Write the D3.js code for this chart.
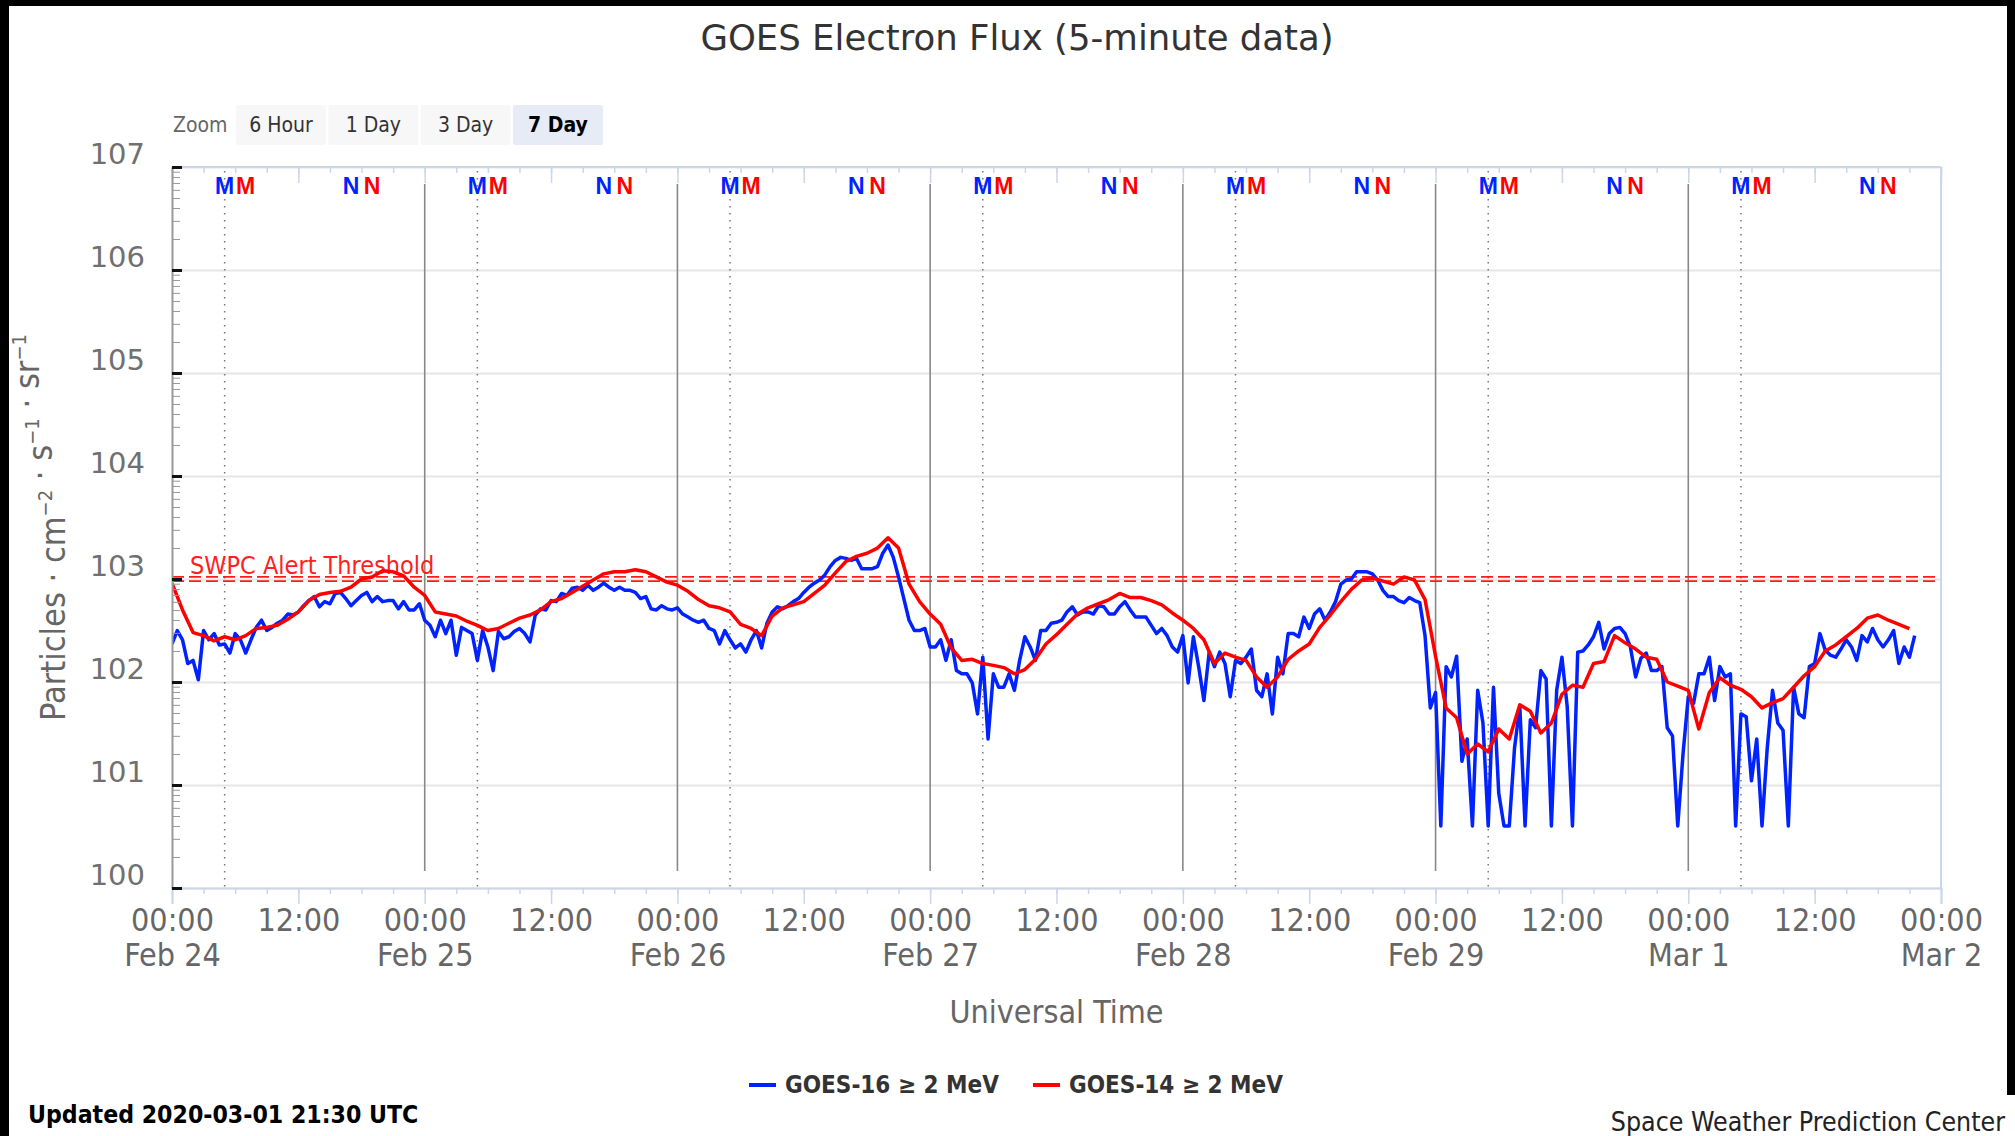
<!DOCTYPE html>
<html>
<head>
<meta charset="utf-8">
<script src="https://cdn.jsdelivr.net/npm/d3@7"></script>
<style>
  html, body { margin: 0; padding: 0; background: #fff; }
  svg { display: block; }
</style>
</head>
<body>
<svg id="chart" width="2015" height="1136"></svg>
<script>
const W = 2015, H = 1136
const plot = { left: 172, right: 1941, top: 167, bottom: 888 }

// series start 2020-02-24 00:00 UTC
const startTime = Date.UTC(2020, 1, 24)
const endTime = Date.UTC(2020, 2, 2)

// GOES-16 >= 2 MeV, one value every 30 minutes (pfu)
const g16Flux = [
  234, 316, 257, 151, 162, 105, 316, 257, 295, 229, 234, 191,
  295, 257, 191, 257, 339, 398, 316, 339, 372, 398, 457, 447,
  479, 550, 617, 676, 537, 603, 575, 724, 741, 646, 550, 617,
  692, 741, 603, 676, 603, 617, 617, 513, 603, 501, 501, 575,
  398, 355, 275, 398, 295, 398, 182, 339, 316, 295, 162, 316,
  219, 129, 309, 263, 275, 309, 331, 295, 245, 447, 513, 501,
  617, 603, 724, 692, 813, 832, 776, 871, 776, 832, 912, 832,
  776, 832, 776, 776, 741, 646, 676, 513, 501, 550, 513, 501,
  525, 457, 427, 398, 380, 398, 331, 316, 234, 316, 257, 214,
  234, 195, 257, 316, 214, 372, 479, 537, 513, 550, 603, 646,
  741, 832, 912, 977, 1096, 1318, 1514, 1622, 1585, 1514, 1585, 1259,
  1259, 1259, 1318, 1778, 2138, 1622, 1047, 646, 398, 316, 316, 331,
  219, 219, 257, 162, 257, 129, 120, 120, 98, 49, 174, 28,
  120, 89, 89, 120, 83, 162, 275, 219, 162, 316, 316, 372,
  380, 398, 479, 537, 447, 479, 479, 457, 550, 537, 457, 457,
  537, 603, 501, 427, 427, 427, 355, 295, 331, 282, 219, 195,
  282, 98, 275, 141, 66, 195, 141, 195, 151, 72, 162, 151,
  174, 209, 83, 72, 120, 49, 174, 120, 295, 295, 275, 427,
  331, 457, 513, 398, 479, 603, 891, 977, 1000, 1175, 1175, 1175,
  1122, 977, 776, 676, 676, 617, 589, 661, 617, 589, 282, 56,
  79, 4, 141, 112, 178, 17, 28, 4, 83, 40, 4, 89,
  8.3, 4, 4, 23, 58, 4, 43, 36, 129, 107, 4, 83,
  174, 58, 4, 195, 200, 229, 275, 380, 209, 295, 331, 339,
  295, 219, 112, 170, 191, 129, 129, 141, 36, 30, 4, 20,
  72, 62, 120, 120, 174, 66, 141, 112, 120, 4, 49, 46,
  11, 28, 4, 23, 83, 40, 34, 4, 89, 49, 45, 141,
  151, 295, 204, 182, 174, 209, 257, 219, 162, 282, 245, 331,
  257, 219, 257, 316, 151, 219, 174, 282
]

// GOES-14 >= 2 MeV, one value every hour (pfu)
const g14Flux = [
  912, 501, 302, 282, 251, 275, 257, 282, 331, 339, 355, 407, 479, 617, 708, 741, 759, 832, 1000, 1047, 1202, 1175, 1072, 832,
  692, 479, 457, 437, 389, 355, 316, 331, 372, 417, 447, 501, 603, 646, 741, 851, 977, 1122, 1175, 1175, 1230, 1175, 1047, 933,
  871, 759, 631, 550, 525, 479, 363, 331, 282, 437, 525, 562, 603, 724, 871, 1148, 1479, 1660, 1778, 1995, 2512, 1995, 891, 603,
  457, 363, 214, 162, 166, 151, 145, 138, 120, 132, 166, 234, 288, 363, 457, 525, 575, 631, 724, 661, 661, 617, 562, 468,
  398, 331, 257, 151, 191, 174, 162, 112, 89, 112, 166, 200, 234, 339, 447, 603, 794, 977, 1023, 955, 891, 1047, 977, 631,
  178, 56, 45, 20, 25, 21, 35, 28, 60, 52, 32, 40, 76, 93, 89, 151, 158, 282, 240, 209, 174, 166, 100, 91,
  83, 35, 79, 110, 93, 85, 72, 56, 63, 69, 89, 115, 141, 200, 229, 275, 331, 417, 447, 398, 363, 330
]

const yExponents = [0, 1, 2, 3, 4, 5, 6, 7]
const alertThreshold = 1000
const zoomButtons = ['6 Hour', '1 Day', '3 Day', '7 Day']
const activeZoom = '7 Day'
// local midnight / noon markers (UT hour of day) for each satellite
const localMarks = [
  { hour: 5, text: 'M', sat: 'g16' },
  { hour: 7, text: 'M', sat: 'g14' },
  { hour: 17, text: 'N', sat: 'g16' },
  { hour: 19, text: 'N', sat: 'g14' }
]
const seriesInfo = [
  { key: 'g16', name: 'GOES-16 \u2265 2 MeV', color: '#0022ff' },
  { key: 'g14', name: 'GOES-14 \u2265 2 MeV', color: '#ff0000' }
]

const color = { g16: '#0022ff', g14: '#ff0000' }
const cond = '"DejaVu Sans Condensed", "DejaVu Sans", sans-serif'

const g16 = g16Flux.map((v, i) => ({ t: new Date(startTime + i * 30 * 60e3), v }))
const g14 = g14Flux.map((v, i) => ({ t: new Date(startTime + i * 60 * 60e3), v }))

const svg = d3.select('#chart')

svg.append('rect').attr('width', W).attr('height', H).attr('fill', '#fff')

//Escalas
const x = d3.scaleUtc()
  .domain([startTime, endTime])
  .range([plot.left, plot.right])

const y = d3.scaleLog()
  .domain([1, 1e7])
  .range([plot.bottom, plot.top])

const decades = yExponents.map(e => Math.pow(10, e))
const minors = []
yExponents.slice(0, -1).forEach(e => {
  for (let k = 2; k <= 9; k++) minors.push(k * Math.pow(10, e))
})

// grid lines
svg.append('g')
  .attr('transform', `translate(${plot.left},0)`)
  .call(d3.axisLeft(y).tickValues(decades).tickSize(-(plot.right - plot.left)).tickFormat(''))
  .call(g => g.select('.domain').remove())
  .call(g => g.selectAll('line').attr('stroke', '#e6e6e6').attr('stroke-width', 2))

// day boundaries
const days = d3.utcDay.range(startTime, endTime)
svg.append('g').selectAll('line')
  .data(days.slice(1))
  .join('line')
  .attr('x1', d => x(d)).attr('x2', d => x(d))
  .attr('y1', plot.top + 17).attr('y2', plot.bottom - 17)
  .attr('stroke', '#888').attr('stroke-width', 1.6)

// local midnight lines (GOES-16)
svg.append('g').selectAll('line')
  .data(days.map(d => d3.utcHour.offset(d, localMarks[0].hour)))
  .join('line')
  .attr('x1', d => x(d)).attr('x2', d => x(d))
  .attr('y1', plot.top + 4).attr('y2', plot.bottom)
  .attr('stroke', '#777').attr('stroke-width', 1.5)
  .attr('stroke-dasharray', '1.5,5.5')

// M / N labels
const marks = []
days.forEach(d => localMarks.forEach(m => marks.push({ t: d3.utcHour.offset(d, m.hour), text: m.text, sat: m.sat })))
svg.append('g').selectAll('text')
  .data(marks)
  .join('text')
  .attr('x', d => x(d.t))
  .attr('y', 194)
  .attr('text-anchor', 'middle')
  .attr('font-family', '"Liberation Sans", Arial, sans-serif')
  .attr('font-weight', 'bold')
  .attr('font-size', 23)
  .attr('fill', d => color[d.sat])
  .text(d => d.text)

// alert threshold
const yTh = y(alertThreshold)
svg.append('g').selectAll('line')
  .data([-2.2, 2.2])
  .join('line')
  .attr('x1', plot.left).attr('x2', plot.right)
  .attr('y1', d => yTh + d).attr('y2', d => yTh + d)
  .attr('stroke', '#ff1a1a').attr('stroke-width', 1.8)
  .attr('stroke-dasharray', '12,5')

svg.append('text')
  .attr('x', 190).attr('y', 574)
  .attr('font-family', cond).style('font-stretch', 'condensed')
  .attr('font-size', 25)
  .attr('fill', '#ff2020')
  .text('SWPC Alert Threshold')

// series
svg.append('clipPath').attr('id', 'clip')
  .append('rect')
  .attr('x', plot.left).attr('y', plot.top)
  .attr('width', plot.right - plot.left).attr('height', plot.bottom - plot.top)

const line = d3.line()
  .x(d => x(d.t))
  .y(d => y(d.v))

const seriesG = svg.append('g').attr('clip-path', 'url(#clip)')
seriesG.append('path')
  .datum(g16)
  .attr('d', line)
  .attr('fill', 'none').attr('stroke', color.g16)
  .attr('stroke-width', 3.5).attr('stroke-linejoin', 'round')
seriesG.append('path')
  .datum(g14)
  .attr('d', line)
  .attr('fill', 'none').attr('stroke', color.g14)
  .attr('stroke-width', 3.5).attr('stroke-linejoin', 'round')

// plot frame (top / right)
svg.append('line')
  .attr('x1', plot.left).attr('x2', plot.right)
  .attr('y1', plot.top).attr('y2', plot.top)
  .attr('stroke', '#ccd6eb').attr('stroke-width', 2)
svg.append('line')
  .attr('x1', plot.right).attr('x2', plot.right)
  .attr('y1', plot.top).attr('y2', plot.bottom)
  .attr('stroke', '#ccd6eb').attr('stroke-width', 2)

// top ticks
svg.append('g')
  .attr('transform', `translate(0,${plot.top})`)
  .call(d3.axisTop(x).ticks(d3.utcHour.every(3)).tickSize(-6).tickFormat(''))
  .call(g => g.select('.domain').remove())
  .call(g => g.selectAll('line').attr('stroke', '#ccd6eb').attr('stroke-width', 1.5))
svg.append('g')
  .attr('transform', `translate(0,${plot.top})`)
  .call(d3.axisTop(x).ticks(d3.utcHour.every(12)).tickSize(-16).tickFormat(''))
  .call(g => g.select('.domain').remove())
  .call(g => g.selectAll('line').attr('stroke', '#ccd6eb').attr('stroke-width', 1.5))

// bottom axis
svg.append('g')
  .attr('transform', `translate(0,${plot.bottom})`)
  .call(d3.axisBottom(x).ticks(d3.utcHour.every(3)).tickSize(6).tickFormat(''))
  .call(g => g.select('.domain').remove())
  .call(g => g.selectAll('line').attr('stroke', '#ccd6eb').attr('stroke-width', 1.5))

const dateFmt = d3.utcFormat('%b %-d')
const xAxis = svg.append('g')
  .attr('transform', `translate(0,${plot.bottom})`)
  .call(d3.axisBottom(x).ticks(d3.utcHour.every(12)).tickSize(16).tickPadding(4).tickFormat(d3.utcFormat('%H:%M')))
xAxis.select('.domain').attr('stroke', '#ccd6eb').attr('stroke-width', 2)
xAxis.selectAll('line').attr('stroke', '#ccd6eb').attr('stroke-width', 1.5)
xAxis.selectAll('text')
  .attr('font-family', cond).style('font-stretch', 'condensed')
  .attr('font-size', 32).attr('fill', '#666')
  .each(function(d) {
    if (d.getUTCHours() === 0) {
      d3.select(this).append('tspan').attr('x', 0).attr('dy', '1.1em').text(dateFmt(d))
    }
  })

// y axis: minor ticks + axis line
svg.append('g')
  .attr('transform', `translate(${plot.left},0)`)
  .call(d3.axisLeft(y).tickValues(minors).tickSize(-8).tickSizeOuter(0).tickFormat(''))
  .call(g => g.select('.domain').attr('stroke', '#999').attr('stroke-width', 2))
  .call(g => g.selectAll('line').attr('stroke', '#999').attr('stroke-width', 1))

// y axis: major ticks
svg.append('g')
  .attr('transform', `translate(${plot.left},0)`)
  .call(d3.axisLeft(y).tickValues(decades).tickSize(-10).tickFormat(''))
  .call(g => g.select('.domain').remove())
  .call(g => g.selectAll('line').attr('stroke', '#111').attr('stroke-width', 3))

// y axis labels
const yLabels = svg.append('g')
  .attr('transform', `translate(${plot.left},0)`)
  .call(d3.axisLeft(y).tickValues(decades).tickSize(0).tickPadding(27).tickFormat(d => '10' + Math.round(Math.log10(d))))
yLabels.select('.domain').remove()
yLabels.selectAll('text')
  .attr('dy', '-4')
  .attr('font-family', '"DejaVu Sans", sans-serif')
  .attr('font-size', 29).attr('fill', '#707070')

// axis titles
svg.append('text')
  .attr('x', (plot.left + plot.right) / 2).attr('y', 1023)
  .attr('text-anchor', 'middle')
  .attr('font-family', cond).style('font-stretch', 'condensed')
  .attr('font-size', 32).attr('fill', '#666')
  .text('Universal Time')

const yTitle = svg.append('text')
  .attr('transform', `translate(65,${(plot.top + plot.bottom) / 2}) rotate(-90)`)
  .attr('text-anchor', 'middle')
  .attr('font-family', cond).style('font-stretch', 'condensed')
  .attr('font-size', 34).attr('fill', '#666')
const yParts = [['Particles \u00b7 cm', '\u22122'], [' \u00b7 s', '\u22121'], [' \u00b7 sr', '\u22121']]
yParts.forEach(p => {
  yTitle.append('tspan').text(p[0])
  yTitle.append('tspan').attr('dy', -13).attr('font-size', 20).text(p[1])
  yTitle.append('tspan').attr('dy', 13).text('')
})

// title
svg.append('text')
  .attr('x', 1017).attr('y', 50)
  .attr('text-anchor', 'middle')
  .attr('font-family', '"DejaVu Sans", sans-serif')
  .attr('font-size', 35.5).attr('fill', '#333')
  .text('GOES Electron Flux (5-minute data)')

// zoom buttons
svg.append('text')
  .attr('x', 173).attr('y', 132)
  .attr('font-family', cond).style('font-stretch', 'condensed')
  .attr('font-size', 21).attr('fill', '#666')
  .text('Zoom')
const btn = svg.append('g').selectAll('g')
  .data(zoomButtons)
  .join('g')
  .attr('transform', (d, i) => `translate(${236 + i * 92.3},105)`)
btn.append('rect')
  .attr('width', 90).attr('height', 40).attr('rx', 2)
  .attr('fill', d => d === activeZoom ? '#e6ebf5' : '#f7f7f7')
btn.append('text')
  .attr('x', 45).attr('y', 27)
  .attr('text-anchor', 'middle')
  .attr('font-family', cond).style('font-stretch', 'condensed')
  .attr('font-size', 21)
  .attr('font-weight', d => d === activeZoom ? 'bold' : 'normal')
  .attr('fill', d => d === activeZoom ? '#000' : '#333')
  .text(d => d)

// legend
const leg = svg.append('g').selectAll('g')
  .data(seriesInfo)
  .join('g')
  .attr('transform', (d, i) => `translate(${749 + i * 284},1085)`)
leg.append('line')
  .attr('x1', 0).attr('x2', 27)
  .attr('stroke', d => d.color).attr('stroke-width', 4)
leg.append('text')
  .attr('x', 36).attr('y', 8)
  .attr('font-family', cond).style('font-stretch', 'condensed')
  .attr('font-weight', 'bold')
  .attr('font-size', 24).attr('fill', '#333')
  .text(d => d.name)

// footer
svg.append('text')
  .attr('x', 28).attr('y', 1123)
  .attr('font-family', cond).style('font-stretch', 'condensed')
  .attr('font-weight', 'bold')
  .attr('font-size', 24.6).attr('fill', '#000')
  .text('Updated 2020-03-01 21:30 UTC')
svg.append('text')
  .attr('x', 2005).attr('y', 1131)
  .attr('text-anchor', 'end')
  .attr('font-family', cond).style('font-stretch', 'condensed')
  .attr('font-size', 26.5).attr('fill', '#222')
  .text('Space Weather Prediction Center')

// black edges of the screenshot
svg.append('rect').attr('x', 0).attr('y', 0).attr('width', 9).attr('height', H).attr('fill', '#000')
svg.append('rect').attr('x', 0).attr('y', 0).attr('width', W).attr('height', 6).attr('fill', '#000')
svg.append('rect').attr('x', 2007).attr('y', 0).attr('width', 8).attr('height', 1095).attr('fill', '#000')
</script>
</body>
</html>
